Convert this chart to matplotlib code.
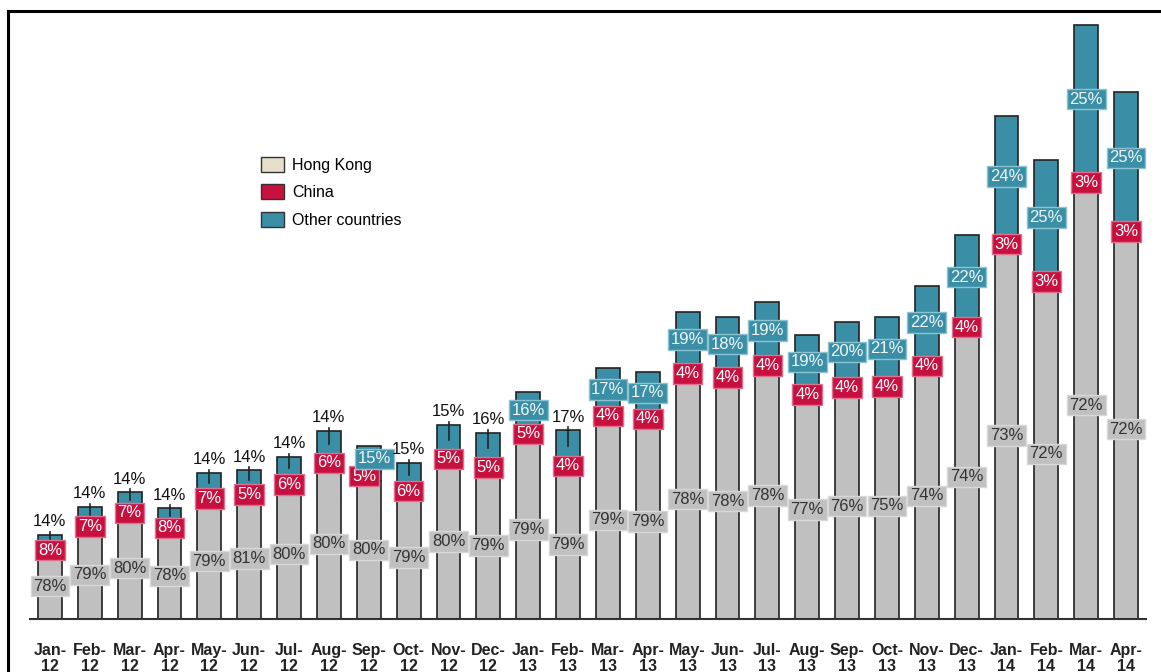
import matplotlib
matplotlib.use("Agg")
import matplotlib.pyplot as plt
from matplotlib.patches import Patch
from matplotlib.lines import Line2D

plt.rcParams['font.family'] = ['Liberation Sans', 'DejaVu Sans']

months = ["Jan-\n12", "Feb-\n12", "Mar-\n12", "Apr-\n12", "May-\n12", "Jun-\n12", "Jul-\n12",
          "Aug-\n12", "Sep-\n12", "Oct-\n12", "Nov-\n12", "Dec-\n12", "Jan-\n13", "Feb-\n13",
          "Mar-\n13", "Apr-\n13", "May-\n13", "Jun-\n13", "Jul-\n13", "Aug-\n13", "Sep-\n13",
          "Oct-\n13", "Nov-\n13", "Dec-\n13", "Jan-\n14", "Feb-\n14", "Mar-\n14", "Apr-\n14"]
# total volume (relative units)
totals = [84, 112, 127, 111, 146, 149, 162, 188, 173, 156, 194, 186, 227, 189,
          251, 247, 307, 302, 317, 284, 297, 302, 333, 384, 503, 459, 594, 527]
hong_kong = [78, 79, 80, 78, 79, 81, 80, 80, 80, 79, 80, 79, 79, 79,
             79, 79, 78, 78, 78, 77, 76, 75, 74, 74, 73, 72, 72, 72]
china = [8, 7, 7, 8, 7, 5, 6, 6, 5, 6, 5, 5, 5, 4,
         4, 4, 4, 4, 4, 4, 4, 4, 4, 4, 3, 3, 3, 3]
other = [14, 14, 14, 14, 14, 14, 14, 14, 15, 15, 15, 16, 16, 17,
         17, 17, 19, 18, 19, 19, 20, 21, 22, 22, 24, 25, 25, 25]
# other-countries labels drawn above the bar
outside = [True] * 8 + [False, True, True, True, False, True] + [False] * 14

C_HK = "#c0c0c0"
C_CN = "#c8103f"
C_OT = "#3a8fa6"
C_HK_LEG = "#e6dfcc"

W, H = 1161, 672
fig = plt.figure(figsize=(W / 100, H / 100), dpi=100)
ax = fig.add_axes([30 / W, (H - 619) / H, 1116 / W, 608 / H])

x = list(range(len(months)))
hk_h = [t * p / 100 for t, p in zip(totals, hong_kong)]
cn_h = [t * p / 100 for t, p in zip(totals, china)]
ot_h = [t - a - b for t, a, b in zip(totals, hk_h, cn_h)]
cn_b = hk_h
ot_b = [a + b for a, b in zip(hk_h, cn_h)]

kw = dict(width=0.6, edgecolor="#222222", linewidth=1.2)
ax.bar(x, hk_h, color=C_HK, **kw)
ax.bar(x, cn_h, bottom=cn_b, color=C_CN, **kw)
ax.bar(x, ot_h, bottom=ot_b, color=C_OT, **kw)

FS = 12

def box(fc, ec):
    return dict(boxstyle="square,pad=0.16", fc=fc, ec=ec, lw=1)

for i in x:
    dx_cn, dx_ot = 0, 0
    if i == 8:
        dx_cn, dx_ot = -0.12, 0.15
    ax.text(i, hk_h[i] / 2, f"{hong_kong[i]}%", ha="center", va="center",
            fontsize=FS, color="#333333", bbox=box(C_HK, "#d8d8d8"))
    ax.text(i + dx_cn, cn_b[i] + cn_h[i] / 2, f"{china[i]}%", ha="center", va="center",
            fontsize=FS, color="white", bbox=box(C_CN, "#e07090"))
    yc = ot_b[i] + ot_h[i] / 2
    if outside[i]:
        ax.plot([i, i], [yc, totals[i] + 3], color="#222222", lw=1.2)
        ax.text(i, totals[i] + 13, f"{other[i]}%", ha="center", va="center",
                fontsize=FS, color="#111111")
    else:
        ax.text(i + dx_ot, yc, f"{other[i]}%", ha="center", va="center",
                fontsize=FS, color="#f0f6f8", bbox=box(C_OT, "#8cc3d2"))

ax.set_xlim(-0.5, len(months) - 0.5)
ax.set_ylim(0, 608)
for s in ["top", "right", "left"]:
    ax.spines[s].set_visible(False)
ax.spines["bottom"].set_color("#333333")
ax.spines["bottom"].set_linewidth(1.5)
ax.set_yticks([])
ax.set_xticks(x)
ax.set_xticklabels(months, fontsize=11.5, fontweight="bold", color="#222222", linespacing=1.1)
ax.tick_params(axis="x", length=0, pad=17)

handles = [Patch(fc=C_HK_LEG, ec="#333333", lw=1, label="Hong Kong"),
           Patch(fc=C_CN, ec="#333333", lw=1, label="China"),
           Patch(fc=C_OT, ec="#333333", lw=1, label="Other countries")]
fig.legend(handles=handles, loc="upper left", bbox_to_anchor=(261 / W, 1 - 157 / H),
           frameon=False, fontsize=11.5, handlelength=1.45, handleheight=1.05,
           handletextpad=0.5, labelspacing=0.72, borderaxespad=0, borderpad=0)

# outer frame (top and left)
fig.add_artist(Line2D([8 / W, 1], [1 - 11 / H, 1 - 11 / H], transform=fig.transFigure,
                      color="black", lw=2.2))
fig.add_artist(Line2D([8 / W, 8 / W], [0, 1 - 11 / H], transform=fig.transFigure,
                      color="black", lw=2.2))

fig.savefig("out.png", dpi=100)
